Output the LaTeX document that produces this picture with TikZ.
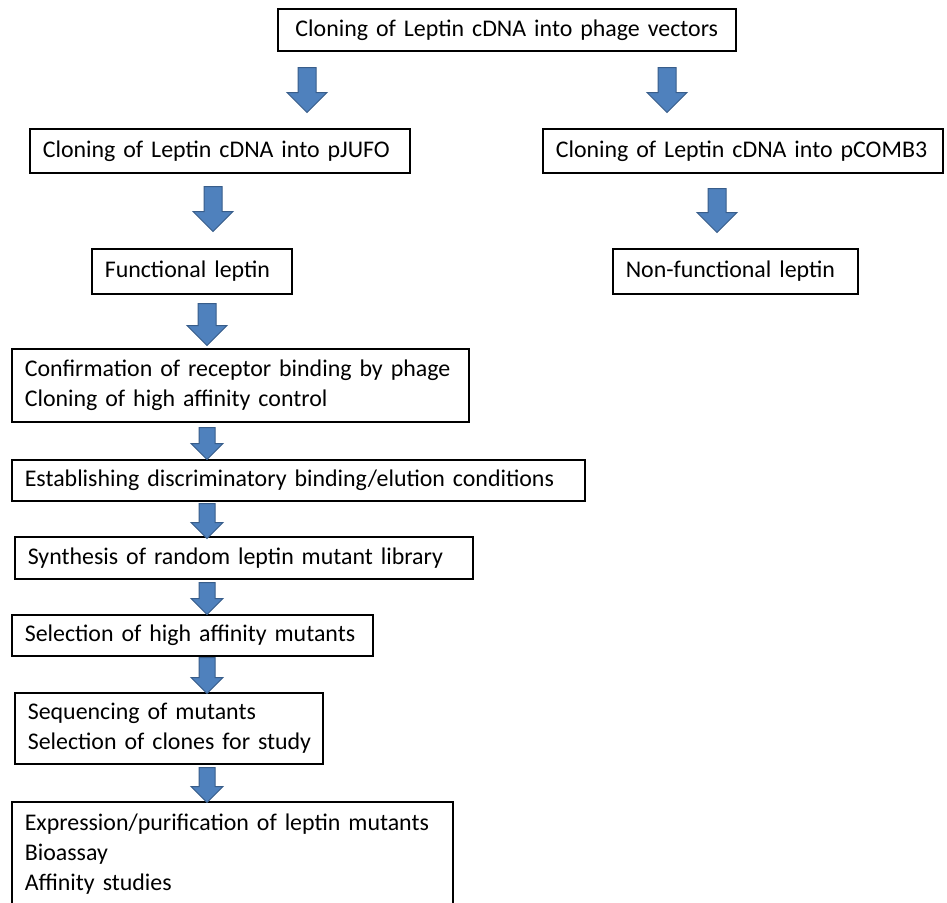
\documentclass[tikz,border=0pt]{standalone}
\usepackage{fontspec}
\setmainfont{Carlito}
\usetikzlibrary{shapes.arrows,positioning}
\definecolor{arrowfill}{RGB}{79,129,189}
\definecolor{arrowline}{RGB}{56,93,138}

\begin{document}
\begin{tikzpicture}[x=1pt, y=-1pt,
       flowbox/.style={draw, line width=1.6pt, anchor=north west, align=left,
         inner xsep=13pt, inner ysep=0pt, font=\fontsize{23.9}{30}\selectfont},
       downarrow/.style={single arrow, rotate=-90, anchor=tail, draw=arrowline,
         fill=arrowfill, line width=1pt, inner xsep=0pt, single arrow tip angle=90},
       bigarrow/.style={downarrow, inner ysep=8.5pt, single arrow head extend=11pt},
       smallarrow/.style={downarrow, inner ysep=7.5pt, single arrow head extend=8pt}]
      \fill[white] (0,0) rectangle (947,902);
      \path[use as bounding box, clip] (0,0) rectangle (947,902);
      % boxes
      \node[flowbox, align=center, text width=432, minimum height=42] (vectors) at (277,8) {\mbox{Cloning of Leptin cDNA into phage vectors}};
      \node[flowbox, text width=354, minimum height=44] (jufo) at (29,128) {\mbox{Cloning of Leptin cDNA into pJUFO}};
      \node[flowbox, text width=374, minimum height=44] (comb) at (542,128) {\mbox{Cloning of Leptin cDNA into pCOMB3}};
      \node[flowbox, text width=174, minimum height=45] (func) at (91,248) {\mbox{Functional leptin}};
      \node[flowbox, text width=219, minimum height=45] (nonfunc) at (612,248) {\mbox{Non-functional leptin}};
      \node[flowbox, text width=431, minimum height=73] (confirm) at (11,348) {\mbox{Confirmation of receptor binding by phage}\\\mbox{Cloning of high affinity control}};
      \node[flowbox, text width=547, minimum height=41] (establish) at (11,459) {\mbox{Establishing discriminatory binding/elution conditions}};
      \node[flowbox, text width=432, minimum height=42] (library) at (14,536) {\mbox{Synthesis of random leptin mutant library}};
      \node[flowbox, text width=335, minimum height=41] (select) at (11,614) {\mbox{Selection of high affinity mutants}};
      \node[flowbox, text width=282, minimum height=71] (sequence) at (14,692) {\mbox{Sequencing of mutants}\\\mbox{Selection of clones for study}};
      \node[flowbox, text width=415, minimum height=104] (express) at (11,801) {\mbox{Expression/purification of leptin mutants}\\\mbox{Bioassay}\\\mbox{Affinity studies}};
      % block arrows
      \node[bigarrow, minimum height=45] (a1) at (307,67) {};
      \node[bigarrow, minimum height=45] (a2) at (667,67) {};
      \node[bigarrow, minimum height=45] (a3) at (213,186) {};
      \node[bigarrow, minimum height=44] (a4) at (717,188) {};
      \node[bigarrow, minimum height=42] (a5) at (207,303) {};
      \node[smallarrow, minimum height=32] (a6) at (207,427) {};
      \node[smallarrow, minimum height=35] (a7) at (207,503) {};
      \node[smallarrow, minimum height=32] (a8) at (207,582) {};
      \node[smallarrow, minimum height=36] (a9) at (207,657) {};
      \node[smallarrow, minimum height=35] (a10) at (207,767) {};
\end{tikzpicture}
\end{document}
